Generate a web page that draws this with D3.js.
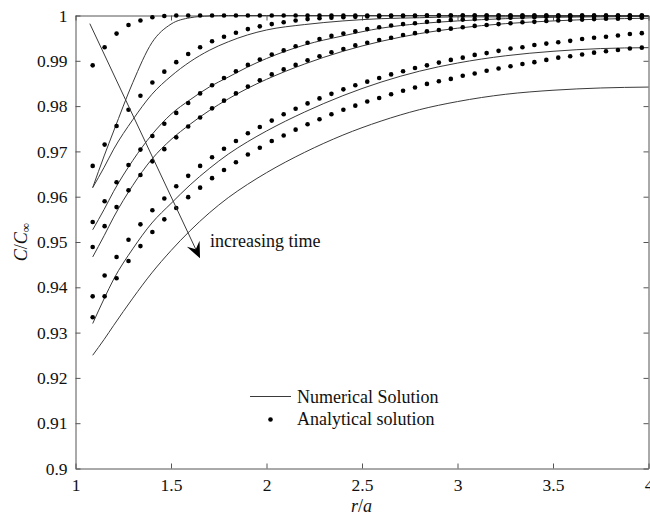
<html><head>
<meta charset="utf-8">
<title>concentration profile</title>
<script src="https://cdn.jsdelivr.net/npm/d3@7/dist/d3.min.js"></script>
<style>
  body { margin: 0; background: #fff; }
  svg text { font-family: "Liberation Serif", "DejaVu Serif", serif; fill: #111; }
  .frame path, .frame line { stroke: #555; stroke-width: 1; }
  .frame text { font-size: 17.5px; }
  .num-line { fill: none; stroke: #3a3a3a; stroke-width: 1; }
  .ana-dot { fill: #000; }
</style>
</head>
<body>
<svg id="chart" width="650" height="521"></svg>

<script>
// r/a positions of the analytical points (same for every time)
var anaR = [1.09, 1.1525, 1.215, 1.2775, 1.34, 1.4025, 1.465, 1.5275, 1.59, 1.6525,
  1.715, 1.7775, 1.84, 1.9025, 1.965, 2.0275, 2.09, 2.1525, 2.215, 2.2775,
  2.34, 2.4025, 2.465, 2.5275, 2.59, 2.6525, 2.715, 2.7775, 2.84, 2.9025,
  2.965, 3.0275, 3.09, 3.1525, 3.215, 3.2775, 3.34, 3.4025, 3.465, 3.5275,
  3.59, 3.6525, 3.715, 3.7775, 3.84, 3.9025, 3.965]

// analytical C/Cinf, earliest time first
var anaA = [0.9890, 0.9930, 0.9960, 0.9979, 0.9989, 0.9996, 0.9999, 1, 1, 1,
  1, 1, 1, 1, 1, 1, 1, 1, 1, 1, 1, 1, 1, 1, 1, 1, 1, 1, 1, 1,
  1, 1, 1, 1, 1, 1, 1, 1, 1, 1, 1, 1, 1, 1, 1, 1, 1]
var anaB = [0.9668, 0.9715, 0.9756, 0.9792, 0.9823, 0.9852, 0.9876, 0.9897, 0.9915, 0.9930,
  0.9943, 0.9953, 0.9962, 0.9970, 0.9976, 0.9981, 0.9985, 0.9989, 0.9992, 0.9994,
  0.9995, 0.9996, 0.9997, 0.9998, 0.9998, 0.9999, 0.9999, 0.9999, 1, 1,
  1, 1, 1, 1, 1, 1, 1, 1, 1, 1, 1, 1, 1, 1, 1, 1, 1]
var anaC = [0.9544, 0.9590, 0.9632, 0.9670, 0.9704, 0.9734, 0.9761, 0.9785, 0.9807, 0.9828,
  0.9846, 0.9862, 0.9877, 0.9891, 0.9903, 0.9914, 0.9923, 0.9932, 0.9940, 0.9948,
  0.9955, 0.9960, 0.9965, 0.9970, 0.9974, 0.9978, 0.9981, 0.9983, 0.9986, 0.9988,
  0.9990, 0.9991, 0.9992, 0.9993, 0.9994, 0.9995, 0.9996, 0.9996, 0.9997, 0.9997,
  0.9997, 0.9998, 0.9998, 0.9998, 0.9998, 0.9999, 0.9999]
var anaD = [0.9489, 0.9535, 0.9577, 0.9614, 0.9648, 0.9678, 0.9705, 0.9731, 0.9755, 0.9775,
  0.9795, 0.9812, 0.9828, 0.9843, 0.9857, 0.9870, 0.9881, 0.9891, 0.9901, 0.9910,
  0.9919, 0.9926, 0.9934, 0.9940, 0.9946, 0.9951, 0.9957, 0.9961, 0.9965, 0.9968,
  0.9971, 0.9974, 0.9977, 0.9979, 0.9981, 0.9983, 0.9985, 0.9986, 0.9988, 0.9989,
  0.9990, 0.9991, 0.9992, 0.9993, 0.9993, 0.9994, 0.9995]
var anaE = [0.9380, 0.9426, 0.9467, 0.9505, 0.9539, 0.9570, 0.9596, 0.9623, 0.9646, 0.9668,
  0.9687, 0.9706, 0.9723, 0.9740, 0.9754, 0.9768, 0.9782, 0.9794, 0.9806, 0.9817,
  0.9827, 0.9837, 0.9846, 0.9854, 0.9862, 0.9870, 0.9877, 0.9884, 0.9890, 0.9896,
  0.9902, 0.9907, 0.9913, 0.9917, 0.9922, 0.9927, 0.9930, 0.9935, 0.9938, 0.9941,
  0.9944, 0.9948, 0.9951, 0.9953, 0.9956, 0.9959, 0.9961]
var anaF = [0.9334, 0.9380, 0.9420, 0.9458, 0.9491, 0.9522, 0.9550, 0.9575, 0.9599, 0.9620,
  0.9641, 0.9659, 0.9676, 0.9693, 0.9708, 0.9723, 0.9735, 0.9748, 0.9760, 0.9771,
  0.9782, 0.9792, 0.9801, 0.9810, 0.9818, 0.9826, 0.9834, 0.9841, 0.9849, 0.9855,
  0.9860, 0.9867, 0.9872, 0.9878, 0.9883, 0.9888, 0.9893, 0.9897, 0.9902, 0.9907,
  0.9910, 0.9914, 0.9918, 0.9921, 0.9924, 0.9927, 0.9929]

// numerical solution, sampled at numR
var numR = [1.09, 1.15, 1.2, 1.3, 1.4, 1.5, 1.6, 1.7, 1.8, 1.9, 2.0, 2.2, 2.4, 2.6, 2.8, 3.0, 3.25, 3.5, 3.75, 4.0]
var num1 = [0.9620, 0.9690, 0.9745, 0.9852, 0.9940, 0.9981, 0.9995, 0.9999, 1, 1, 1, 1, 1, 1, 1, 1, 1, 1, 1, 1]
var num2 = [0.9620, 0.9665, 0.9705, 0.9770, 0.9826, 0.9866, 0.9898, 0.9923, 0.9942, 0.9957, 0.9968, 0.9980, 0.9988, 0.9993, 0.9995, 0.9997, 0.9997, 0.9998, 0.9998, 0.9999]
var num3 = [0.9527, 0.9572, 0.9612, 0.9680, 0.9737, 0.9782, 0.9814, 0.9842, 0.9864, 0.9886, 0.9905, 0.9935, 0.9955, 0.9972, 0.9982, 0.9988, 0.9993, 0.9996, 0.9997, 0.9998]
var num4 = [0.9467, 0.9514, 0.9555, 0.9625, 0.9683, 0.9726, 0.9760, 0.9790, 0.9816, 0.9839, 0.9859, 0.9893, 0.9921, 0.9943, 0.9960, 0.9972, 0.9982, 0.9988, 0.9992, 0.9994]
var num5 = [0.9320, 0.9375, 0.9418, 0.9485, 0.9542, 0.9585, 0.9626, 0.9662, 0.9694, 0.9721, 0.9745, 0.9787, 0.9823, 0.9853, 0.9877, 0.9895, 0.9911, 0.9921, 0.9927, 0.9929]
var num6 = [0.9250, 0.9285, 0.9316, 0.9376, 0.9432, 0.9481, 0.9525, 0.9564, 0.9598, 0.9627, 0.9653, 0.9698, 0.9736, 0.9767, 0.9792, 0.9810, 0.9826, 0.9835, 0.9840, 0.9842]

var xTicks = [1, 1.5, 2, 2.5, 3, 3.5, 4]
var yTicks = [0.9, 0.91, 0.92, 0.93, 0.94, 0.95, 0.96, 0.97, 0.98, 0.99, 1]
var yTickLabels = ["0.9", "0.91", "0.92", "0.93", "0.94", "0.95", "0.96", "0.97", "0.98", "0.99", "1"]

// arrow "increasing time": start and tip in data units
var arrowPts = [[1.075, 0.9982], [1.652, 0.9464]]
</script>

<script>
  var svg = d3.select('#chart')
  var serif = '"Liberation Serif", "DejaVu Serif", serif'

  var xScale = d3.scaleLinear().domain([1, 4]).range([75.5, 648.5])
  var yScale = d3.scaleLinear().domain([0.9, 1]).range([468.5, 15.5])

  // frame: ticks point inward on all four sides
  var xAxis = d3.axisBottom(xScale).tickValues(xTicks).tickSizeInner(-5).tickSizeOuter(0)
    .tickPadding(10).tickFormat(d3.format(""))
  svg.append('g').classed('frame', true).attr('transform', 'translate(0,468.5)').call(xAxis)

  var yAxis = d3.axisLeft(yScale).tickValues(yTicks).tickSizeInner(-5).tickSizeOuter(0)
    .tickPadding(8).tickFormat(function(d, i) { return yTickLabels[i] })
  svg.append('g').classed('frame', true).attr('transform', 'translate(75.5,0)').call(yAxis)

  var xTop = d3.axisTop(xScale).tickValues(xTicks).tickSizeInner(-5).tickSizeOuter(0).tickFormat("")
  svg.append('g').classed('frame', true).attr('transform', 'translate(0,15.5)').call(xTop)

  var yRight = d3.axisRight(yScale).tickValues(yTicks).tickSizeInner(-5).tickSizeOuter(0).tickFormat("")
  svg.append('g').classed('frame', true).attr('transform', 'translate(648.5,0)').call(yRight)

  // d3 axis puts sans-serif on its groups, take it off
  svg.selectAll('.frame').attr('font-family', serif)

  // numerical solution lines
  var line = d3.line()
    .x(function(d) { return xScale(d[0]) })
    .y(function(d) { return yScale(d[1]) })
    .curve(d3.curveMonotoneX)

  var numSeries = [num1, num2, num3, num4, num5, num6]
  numSeries.forEach(function(vals) {
    svg.append('path')
      .classed('num-line', true)
      .attr('d', line(numR.map(function(r, i) { return [r, vals[i]] })))
  })

  // analytical points
  var anaSeries = [anaA, anaB, anaC, anaD, anaE, anaF]
  anaSeries.forEach(function(vals) {
    svg.append('g').selectAll('circle')
      .data(anaR.map(function(r, i) { return [r, vals[i]] }))
      .enter().append('circle')
      .classed('ana-dot', true)
      .attr('cx', function(d) { return xScale(d[0]) })
      .attr('cy', function(d) { return yScale(d[1]) })
      .attr('r', 2.3)
  })

  // arrow with a stealth style head
  var p0 = [xScale(arrowPts[0][0]), yScale(arrowPts[0][1])]
  var p1 = [xScale(arrowPts[1][0]), yScale(arrowPts[1][1])]
  var dx = p1[0] - p0[0], dy = p1[1] - p0[1]
  var len = Math.sqrt(dx * dx + dy * dy)
  var ux = dx / len, uy = dy / len
  var nx = -uy, ny = ux
  var headLen = 16, headW = 7, notch = 10

  svg.append('line')
    .attr('x1', p0[0]).attr('y1', p0[1])
    .attr('x2', p1[0] - notch * ux).attr('y2', p1[1] - notch * uy)
    .attr('stroke', '#3a3a3a').attr('stroke-width', 1)

  var head = d3.path()
  head.moveTo(p1[0], p1[1])
  head.lineTo(p1[0] - headLen * ux + headW * nx, p1[1] - headLen * uy + headW * ny)
  head.lineTo(p1[0] - notch * ux, p1[1] - notch * uy)
  head.lineTo(p1[0] - headLen * ux - headW * nx, p1[1] - headLen * uy - headW * ny)
  head.closePath()
  svg.append('path').attr('d', head.toString()).attr('fill', '#000')

  svg.append('text')
    .attr('x', 210).attr('y', 246.5)
    .attr('font-family', serif)
    .style('font-size', '18px')
    .text('increasing time')

  // legend
  var leg = svg.append('g').attr('font-family', serif)
  leg.append('line')
    .attr('x1', 250).attr('x2', 291).attr('y1', 396.5).attr('y2', 396.5)
    .attr('stroke', '#3a3a3a').attr('stroke-width', 1)
  leg.append('text').attr('x', 297).attr('y', 402.5).style('font-size', '18px').text('Numerical Solution')
  leg.append('circle').attr('cx', 270.5).attr('cy', 419.5).attr('r', 2.3).attr('fill', '#000')
  leg.append('text').attr('x', 297).attr('y', 424.5).style('font-size', '18px').text('Analytical solution')

  // axis titles
  var xt = svg.append('text')
    .attr('x', 361.5).attr('y', 512)
    .attr('text-anchor', 'middle')
    .attr('font-family', serif)
    .style('font-size', '18px')
  xt.append('tspan').style('font-style', 'italic').text('r')
  xt.append('tspan').text('/')
  xt.append('tspan').style('font-style', 'italic').text('a')

  var yt = svg.append('text')
    .attr('transform', 'translate(27,242) rotate(-90)')
    .attr('text-anchor', 'middle')
    .attr('font-family', serif)
    .style('font-size', '18px')
  yt.append('tspan').style('font-style', 'italic').text('C')
  yt.append('tspan').text('/')
  yt.append('tspan').style('font-style', 'italic').text('C')
  yt.append('tspan').attr('dy', 3).style('font-size', '13px').text('∞')
</script>
</body>
</html>
